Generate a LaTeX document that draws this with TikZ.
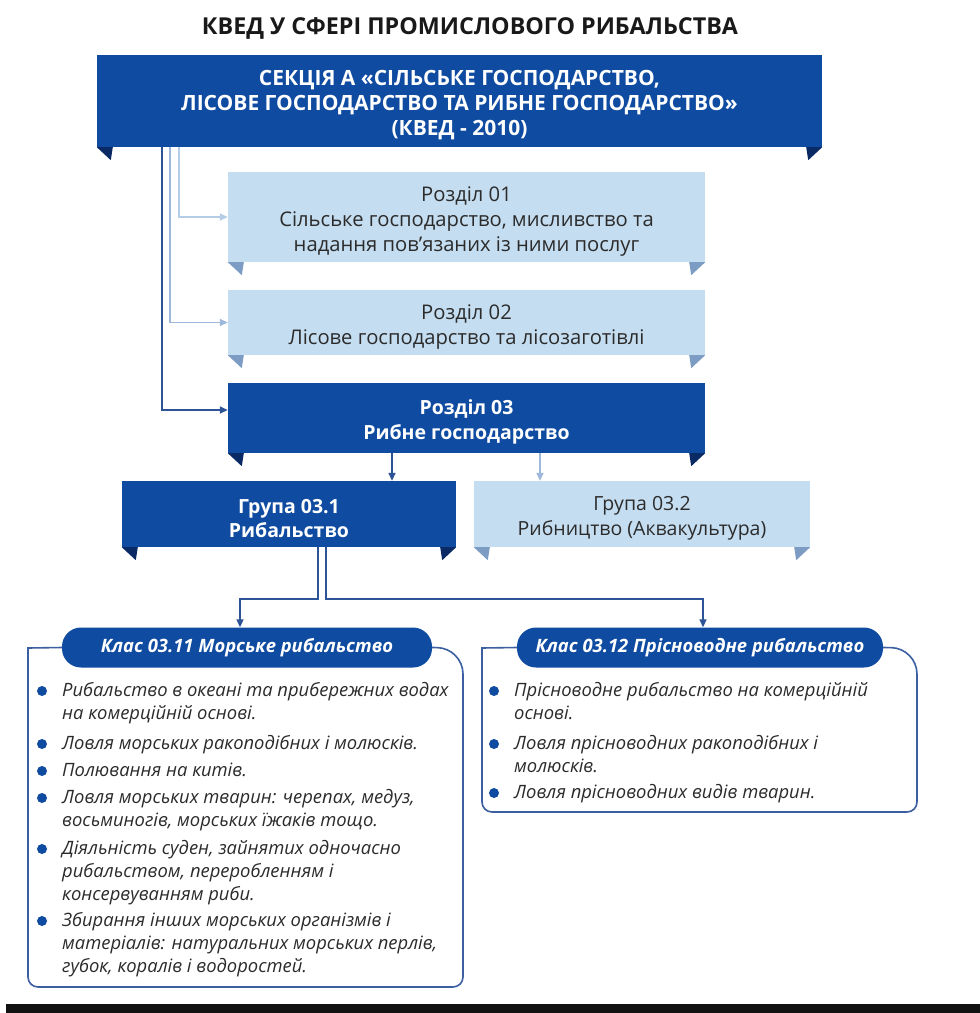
\documentclass[tikz,border=0pt]{standalone}
\usepackage{fontspec}
\setmainfont{Open Sans}
\usetikzlibrary{arrows.meta}
\definecolor{dblue}{HTML}{0F4BA0}
\definecolor{dtri}{HTML}{0A2A66}
\definecolor{lblue}{HTML}{C5DDF0}
\definecolor{ltri}{HTML}{7D9CC4}
\definecolor{cdark}{HTML}{2D5497}
\definecolor{cmid}{HTML}{9DB8DA}
\definecolor{clight}{HTML}{B5CCE6}
\definecolor{fblue}{HTML}{3B5FA0}
\definecolor{txt}{HTML}{2B2B2B}
\newcommand{\folds}[2]{%
  \fill[#2] (#1.south west) -- ++(16,0) -- ++(-2,13) -- cycle;
  \fill[#2] (#1.south east) -- ++(-16,0) -- ++(2,13) -- cycle;}
\newcommand{\lift}{\rule{0pt}{23pt}}
\begin{document}
\begin{tikzpicture}[x=1pt,y=-1pt,
  box/.style={rectangle, inner sep=0pt, align=center},
  darkbox/.style={box, fill=dblue, text=white, font=\bfseries\fontsize{19.5}{24.5}\selectfont},
  lightbox/.style={box, fill=lblue, text=txt, font=\fontsize{20.2}{25}\selectfont},
  pill/.style={rectangle, rounded corners=19pt, fill=dblue, text=white, minimum height=40pt, inner sep=0pt, font=\bfseries\itshape\fontsize{18.4}{20}\selectfont},
  item/.style={anchor=north west, align=left, inner sep=0pt, text=txt, font=\itshape\fontsize{18.4}{23}\selectfont},
  frame/.style={draw=fblue, line width=1.6pt},
  tip/.style={-{Triangle[length=8pt,width=7pt]}},
  dconn/.style={draw=cdark, line width=1.6pt, tip},
  lconn/.style={draw=cmid, line width=1.6pt, tip},
  bdot/.style={fill=dblue}]
\fill[white] (0,0) rectangle (980,1013);
\useasboundingbox (0,0) rectangle (980,1013);

\node[font=\bfseries\fontsize{23.3}{26}\selectfont, text=black!90] (title) at (470,28) {КВЕД У СФЕРІ ПРОМИСЛОВОГО РИБАЛЬСТВА};

\node[darkbox, font=\bfseries\fontsize{21}{25}\selectfont, minimum width=725pt, minimum height=92pt] (top) at (459.5,101) {\lift СЕКЦІЯ А «СІЛЬСЬКЕ ГОСПОДАРСТВО,\\ЛІСОВЕ ГОСПОДАРСТВО ТА РИБНЕ ГОСПОДАРСТВО»\\(КВЕД - 2010)};
\folds{top}{dtri}

\node[lightbox, minimum width=477pt, minimum height=90pt] (r1) at (466.5,217) {\lift Розділ 01\\Сільське господарство, мисливство та\\надання пов'язаних із ними послуг};
\folds{r1}{ltri}
\node[lightbox, minimum width=477pt, minimum height=65pt] (r2) at (466.5,322.5) {\lift Розділ 02\\Лісове господарство та лісозаготівлі};
\folds{r2}{ltri}
\node[darkbox, minimum width=477pt, minimum height=70pt] (r3) at (466.5,418) {\lift Розділ 03\\Рибне господарство};
\folds{r3}{dtri}

\node[darkbox, minimum width=334pt, minimum height=66pt] (g1) at (289,514) {\lift Група 03.1\\Рибальство};
\folds{g1}{dtri}
\node[lightbox, font=\fontsize{19.5}{25}\selectfont, minimum width=336pt, minimum height=66pt] (g2) at (642,514) {\lift Група 03.2\\Рибництво (Аквакультура)};
\folds{g2}{ltri}

% connectors from top
\coordinate (v1) at (162,0);
\coordinate (v2) at (170,0);
\coordinate (v3) at (179,0);
\draw[lconn, draw=clight] (top.south -| v3) |- (r1.west);
\draw[lconn] (top.south -| v2) |- (r2.west);
\draw[dconn] (top.south -| v1) |- ([yshift=8pt]r3.west);

\coordinate (a1) at (392,0);
\coordinate (a2) at (540,0);
\draw[dconn] (r3.south -| a1) -- (g1.north -| a1);
\draw[lconn] (r3.south -| a2) -- (g2.north -| a2);

% class pills
\node[pill, minimum width=370pt] (c1) at (247,647.5) {Клас 03.11 Морське рибальство};
\node[pill, minimum width=366pt] (c2) at (700,647.5) {Клас 03.12 Прісноводне рибальство};

\coordinate (s1) at (318,599);
\coordinate (s2) at (326,599);
\draw[dconn] (g1.south -| s1) -- (s1) -| (c1.north -| 240,0);
\draw[dconn] (g1.south -| s2) -- (s2) -| (c2.north -| 703,0);

% frames
\draw[frame] (c1.west) -- (28,648) [rounded corners=10pt] -- (28,987) -- (463,987) [rounded corners=26pt] -- (463,648) -- (c1.east);
\draw[frame] (c2.west) -- (482,648) [rounded corners=10pt] -- (482,812) -- (917,812) [rounded corners=26pt] -- (917,648) -- (c2.east);

% left items
\node[item] (l1) at (62,680) {\strut Рибальство в океані та прибережних водах\\на комерційній основі.};
\node[item] (l2) at (62,733) {\strut Ловля морських ракоподібних і молюсків.};
\node[item] (l3) at (62,760) {\strut Полювання на китів.};
\node[item] (l4) at (62,787) {\strut Ловля морських тварин: черепах, медуз,\\восьминогів, морських їжаків тощо.};
\node[item] (l5) at (62,838) {\strut Діяльність суден, зайнятих одночасно\\рибальством, переробленням і\\консервуванням риби.};
\node[item] (l6) at (62,910) {\strut Збирання інших морських організмів і\\матеріалів: натуральних морських перлів,\\губок, коралів і водоростей.};
\foreach \y in {691,744,771,798,849,921} \fill[bdot] (42,\y) circle[radius=5];

% right items
\node[item] (q1) at (514,680) {\strut Прісноводне рибальство на комерційній\\основі.};
\node[item] (q2) at (514,733) {\strut Ловля прісноводних ракоподібних і\\молюсків.};
\node[item] (q3) at (514,782) {\strut Ловля прісноводних видів тварин.};
\foreach \y in {691,744,793} \fill[bdot] (494,\y) circle[radius=5];

\fill[black!93] (6,1004) rectangle (980,1013);
\end{tikzpicture}
\end{document}
